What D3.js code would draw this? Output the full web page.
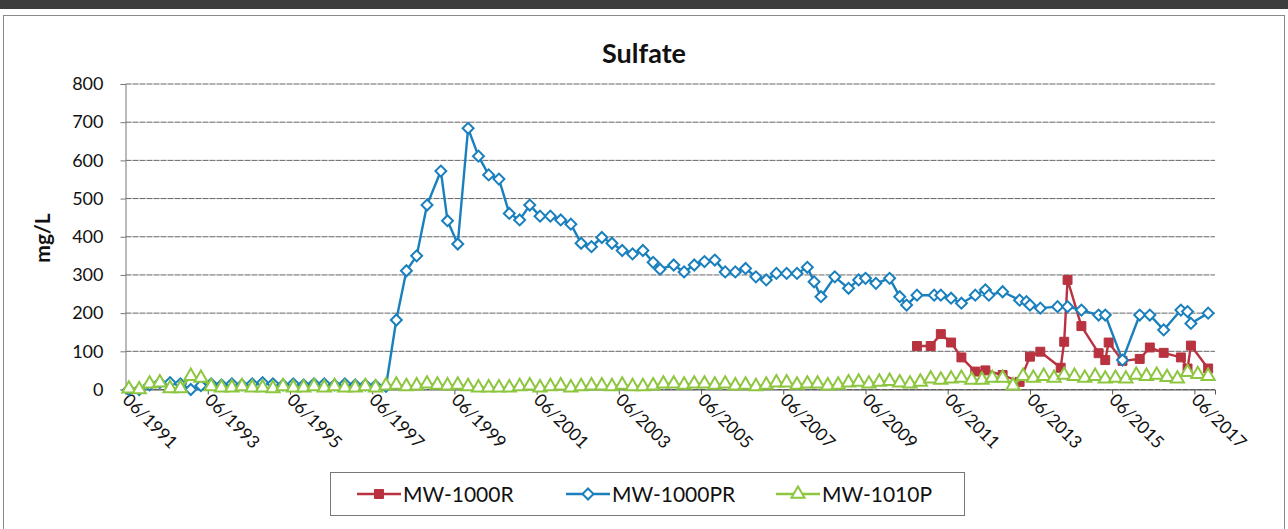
<!DOCTYPE html>
<html>
<head>
<meta charset="utf-8">
<script src="https://cdn.jsdelivr.net/npm/d3@7"></script>
<style>
  body { margin: 0; background: #fff; }
  svg { display: block; font-family: Lato, "Liberation Sans", sans-serif; }
</style>
</head>
<body>
<script>
// tick labels on the date axis
const xTickLabels = ["06/1991", "06/1993", "06/1995", "06/1997", "06/1999", "06/2001", "06/2003",
  "06/2005", "06/2007", "06/2009", "06/2011", "06/2013", "06/2015", "06/2017"];
const yTicks = [0, 100, 200, 300, 400, 500, 600, 700, 800];

// MW-1000R
const redDates = ["2010-09", "2011-01", "2011-04", "2011-07", "2011-10", "2012-02", "2012-05", "2012-10",
  "2013-03", "2013-06", "2013-09", "2014-03", "2014-04", "2014-05", "2014-09", "2015-02", "2015-04",
  "2015-05", "2015-09", "2016-02", "2016-05", "2016-09", "2017-02", "2017-04", "2017-05", "2017-10"];
const redValues = [114, 114, 145, 123, 84, 47, 50, 38,
  20, 86, 99, 57, 125, 287, 166, 95, 77,
  123, 75, 80, 110, 96, 84, 55, 115, 55];

// MW-1000PR
const blueDates = ["1991-07", "1991-10", "1992-01", "1992-04", "1992-07", "1992-10", "1993-01", "1993-04",
  "1993-07", "1993-10", "1994-01", "1994-04", "1994-07", "1994-10", "1995-01", "1995-04", "1995-07",
  "1995-10", "1996-01", "1996-04", "1996-07", "1996-10", "1997-01", "1997-04", "1997-07", "1997-10",
  "1998-01", "1998-04", "1998-07", "1998-10", "1999-02", "1999-04", "1999-07", "1999-10", "2000-01",
  "2000-04", "2000-07", "2000-10", "2001-01", "2001-04", "2001-07", "2001-10", "2002-01", "2002-04",
  "2002-07", "2002-10", "2003-01", "2003-04", "2003-07", "2003-10", "2004-01", "2004-04", "2004-06",
  "2004-10", "2005-01", "2005-04", "2005-07", "2005-10", "2006-01", "2006-04", "2006-07", "2006-10",
  "2007-01", "2007-04", "2007-07", "2007-10", "2008-01", "2008-03", "2008-05", "2008-09", "2009-01",
  "2009-04", "2009-06", "2009-09", "2010-01", "2010-04", "2010-06", "2010-09", "2011-02", "2011-04",
  "2011-07", "2011-10", "2012-02", "2012-05", "2012-06", "2012-10", "2013-03", "2013-05", "2013-06",
  "2013-09", "2014-02", "2014-05", "2014-09", "2015-02", "2015-04", "2015-09", "2016-02", "2016-05",
  "2016-09", "2017-02", "2017-04", "2017-05", "2017-10"];
const blueValues = [0, 0, 12, 18, 18, 15, 0, 10,
  15, 12, 15, 12, 15, 18, 15, 12, 15,
  12, 15, 15, 12, 15, 12, 12, 10, 8,
  182, 311, 350, 483, 572, 442, 381, 684, 611,
  562, 551, 461, 444, 483, 454, 454, 444, 433,
  383, 374, 398, 383, 364, 355, 364, 333, 315,
  326, 308, 326, 335, 339, 308, 308, 317, 295,
  287, 304, 304, 304, 320, 282, 243, 295, 265,
  287, 291, 278, 291, 243, 221, 247, 247, 247,
  239, 226, 247, 261, 247, 256, 234, 230, 221,
  213, 217, 217, 208, 195, 195, 77, 195, 195,
  156, 208, 204, 173, 200];

// MW-1010P
const greenDates = ["1991-07", "1991-10", "1992-01", "1992-04", "1992-07", "1992-10", "1993-01", "1993-04",
  "1993-07", "1993-10", "1994-01", "1994-04", "1994-07", "1994-10", "1995-01", "1995-04", "1995-07",
  "1995-10", "1996-01", "1996-04", "1996-07", "1996-10", "1997-01", "1997-04", "1997-07", "1997-10",
  "1998-01", "1998-04", "1998-07", "1998-10", "1999-01", "1999-04", "1999-07", "1999-10", "2000-01",
  "2000-04", "2000-07", "2000-10", "2001-01", "2001-04", "2001-07", "2001-10", "2002-01", "2002-04",
  "2002-07", "2002-10", "2003-01", "2003-04", "2003-07", "2003-10", "2004-01", "2004-04", "2004-07",
  "2004-10", "2005-01", "2005-04", "2005-07", "2005-10", "2006-01", "2006-04", "2006-07", "2006-10",
  "2007-01", "2007-04", "2007-07", "2007-10", "2008-01", "2008-04", "2008-07", "2008-10", "2009-01",
  "2009-04", "2009-07", "2009-10", "2010-01", "2010-04", "2010-07", "2010-10", "2011-01", "2011-04",
  "2011-07", "2011-10", "2012-01", "2012-04", "2012-07", "2012-10", "2013-01", "2013-04", "2013-07",
  "2013-10", "2014-01", "2014-04", "2014-07", "2014-10", "2015-01", "2015-04", "2015-07", "2015-10",
  "2016-01", "2016-04", "2016-07", "2016-10", "2017-01", "2017-04", "2017-07", "2017-10"];
const greenValues = [2, 0, 15, 18, 3, 3, 35, 30,
  8, 5, 5, 8, 5, 5, 3, 8, 5,
  5, 8, 5, 8, 5, 5, 8, 5, 10,
  12, 8, 10, 15, 12, 10, 12, 8, 5,
  5, 5, 5, 8, 10, 5, 8, 10, 5,
  8, 10, 10, 8, 12, 8, 8, 10, 15,
  15, 12, 15, 15, 12, 15, 10, 12, 8,
  12, 18, 18, 12, 15, 15, 10, 12, 18,
  20, 15, 20, 22, 18, 15, 20, 28, 25,
  28, 30, 25, 25, 30, 30, 10, 35, 30,
  35, 30, 38, 35, 30, 35, 28, 30, 28,
  38, 35, 38, 32, 28, 45, 40, 35];

const seriesNames = ["MW-1000R", "MW-1000PR", "MW-1010P"];
const seriesColors = ["#b8323f", "#1a80bd", "#8dc63f"];

const W = 1288, H = 529;
const plot = { left: 125.5, right: 1215, top: 84, bottom: 389.5 };
const parse = d3.timeParse("%Y-%m");
const parseTick = d3.timeParse("%m/%Y");

const svg = d3.select("body").append("svg")
  .attr("width", W)
  .attr("height", H);

// scanned page edge + chart border
svg.append("rect").attr("x", 0).attr("y", 0).attr("width", W).attr("height", 9).attr("fill", "#3d3d3d");
svg.append("rect")
  .attr("x", 3.5).attr("y", 15.5).attr("width", W - 7).attr("height", H)
  .attr("fill", "none").attr("stroke", "#8a8a8a").attr("stroke-width", 1);

const xScale = d3.scaleTime()
  .domain([parse("1991-06"), parse("2017-12")])
  .range([plot.left, plot.right]);

const yScale = d3.scaleLinear()
  .domain([0, 800])
  .range([plot.bottom, plot.top]);

svg.append("text")
  .attr("x", 644).attr("y", 63)
  .attr("text-anchor", "middle")
  .style("font-size", "27px").style("font-weight", "bold").style("fill", "#111")
  .text("Sulfate");

// gridlines
svg.append("g")
  .selectAll("line")
  .data(yTicks)
  .enter()
  .append("line")
  .attr("x1", plot.left).attr("x2", plot.right)
  .attr("y1", (d) => yScale(d)).attr("y2", (d) => yScale(d))
  .attr("stroke", "#666").attr("stroke-width", 1)
  .attr("stroke-dasharray", "6,1");

// y axis
const yAxis = d3.axisLeft(yScale).tickValues(yTicks).tickSize(5).tickPadding(17);
const gy = svg.append("g")
  .attr("transform", "translate(" + plot.left + ",0)")
  .call(yAxis);
gy.select(".domain").attr("stroke", "#777");
gy.selectAll(".tick line").attr("stroke", "#777");
gy.selectAll("text").style("font-size", "18px").style("fill", "#111").style("font-family", "Lato, sans-serif");

svg.append("text")
  .attr("transform", "translate(50,238) rotate(-90)")
  .attr("text-anchor", "middle")
  .style("font-size", "21px").style("font-weight", "bold").style("fill", "#111")
  .text("mg/L");

// x axis
const xTickDates = xTickLabels.map((d) => parseTick(d));
const xAxis = d3.axisBottom(xScale).tickValues(xTickDates).tickSize(5).tickFormat("");
const gx = svg.append("g")
  .attr("transform", "translate(0," + plot.bottom + ")")
  .call(xAxis);
gx.select(".domain").attr("stroke", "#555");
gx.selectAll(".tick line").attr("stroke", "#555");

svg.append("g")
  .selectAll("text")
  .data(xTickLabels)
  .enter()
  .append("text")
  .attr("transform", (d) => "translate(" + (xScale(parseTick(d)) - 4) + ",401) rotate(45)")
  .style("font-size", "17.5px").style("fill", "#111")
  .text((d) => d);

// series
const symbols = [d3.symbolSquare, d3.symbolSquare, d3.symbolTriangle];
const symbolSizes = [80, 60, 75];
const symbolRotate = [0, 45, 0];
const allSeries = [
  redDates.map((d, i) => ({ date: parse(d), value: redValues[i] })),
  blueDates.map((d, i) => ({ date: parse(d), value: blueValues[i] })),
  greenDates.map((d, i) => ({ date: parse(d), value: greenValues[i] }))
];

const line = d3.line()
  .x((d) => xScale(d.date))
  .y((d) => yScale(d.value));

allSeries.forEach((data, s) => {
  const g = svg.append("g");
  g.append("path")
    .datum(data)
    .attr("d", line)
    .attr("fill", "none")
    .attr("stroke", seriesColors[s])
    .attr("stroke-width", 2.4)
    .attr("stroke-linejoin", "round");
  g.selectAll("path.marker")
    .data(data)
    .enter()
    .append("path")
    .attr("class", "marker")
    .attr("d", d3.symbol().type(symbols[s]).size(symbolSizes[s]))
    .attr("transform", (d) => "translate(" + xScale(d.date) + "," + yScale(d.value) + ") rotate(" + symbolRotate[s] + ")")
    .attr("fill", s === 0 ? seriesColors[s] : "#fff")
    .attr("stroke", seriesColors[s])
    .attr("stroke-width", s === 0 ? 1 : 2);
});

// legend
const legendBox = { x: 330.5, y: 472.5, w: 634, h: 43 };
svg.append("rect")
  .attr("x", legendBox.x).attr("y", legendBox.y)
  .attr("width", legendBox.w).attr("height", legendBox.h)
  .attr("fill", "#fff").attr("stroke", "#777");

const legendX = [357, 566, 776];
const legend = svg.append("g")
  .selectAll("g")
  .data(seriesNames)
  .enter()
  .append("g")
  .attr("transform", (d, i) => "translate(" + legendX[i] + ",494)");

legend.append("line")
  .attr("x1", 0).attr("x2", 44)
  .attr("stroke", (d, i) => seriesColors[i])
  .attr("stroke-width", 2.4);
legend.append("path")
  .attr("d", (d, i) => d3.symbol().type(symbols[i]).size(symbolSizes[i])())
  .attr("transform", (d, i) => "translate(22,0) rotate(" + symbolRotate[i] + ")")
  .attr("fill", (d, i) => i === 0 ? seriesColors[i] : "#fff")
  .attr("stroke", (d, i) => seriesColors[i])
  .attr("stroke-width", (d, i) => i === 0 ? 1 : 2);
legend.append("text")
  .attr("x", 46).attr("y", 7.5)
  .style("font-size", "21px").style("fill", "#111")
  .text((d) => d);
</script>
</body>
</html>
